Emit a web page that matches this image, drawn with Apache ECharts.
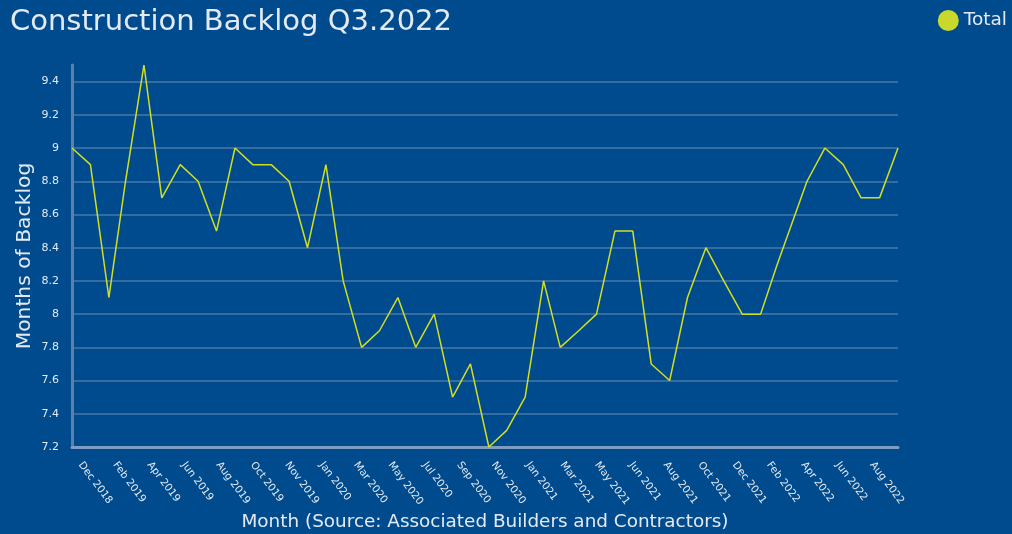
<!DOCTYPE html>
<html>
<head>
<meta charset="utf-8">
<script src="https://cdn.jsdelivr.net/npm/echarts@6/dist/echarts.min.js"></script>
<style>
html,body{margin:0;padding:0;background:#004b8d;}
#chart{width:1012px;height:534px;}
</style>
</head>
<body>
<div id="chart"></div>
<script>
// Dates of each observation (the last ones were plotted mid-month in the source)
const dates = [
  '2018-12-01','2019-01-01','2019-02-01','2019-03-01','2019-04-01','2019-05-01','2019-06-01','2019-07-01','2019-08-01','2019-09-01','2019-10-01','2019-11-01',
  '2019-12-01','2020-01-01','2020-02-01','2020-03-01','2020-04-01','2020-05-01','2020-06-01','2020-07-01','2020-08-01','2020-09-01','2020-10-01','2020-11-01',
  '2020-12-01','2021-01-01','2021-02-01','2021-03-01','2021-04-01','2021-05-01','2021-06-01','2021-07-01','2021-08-01','2021-09-01','2021-10-01','2021-11-01',
  '2021-12-01','2022-01-01','2022-02-01','2022-03-01','2022-04-20','2022-05-20','2022-06-20','2022-07-20','2022-08-20','2022-09-20'
];
const totalBacklog = [
  9.0, 8.9, 8.1, 8.8, 9.5, 8.7, 8.9, 8.8, 8.5, 9.0, 8.9, 8.9,
  8.8, 8.4, 8.9, 8.2, 7.8, 7.9, 8.1, 7.8, 8.0, 7.5, 7.7, 7.2,
  7.3, 7.5, 8.2, 7.8, 7.9, 8.0, 8.5, 8.5, 7.7, 7.6, 8.1, 8.4,
  8.2, 8.0, 8.0, 8.3, 8.8, 9.0, 8.9, 8.7, 8.7, 9.0
];
const tickLabels = [
  'Dec 2018','Feb 2019','Apr 2019','Jun 2019','Aug 2019','Oct 2019','Nov 2019','Jan 2020',
  'Mar 2020','May 2020','Jul 2020','Sep 2020','Nov 2020','Jan 2021','Mar 2021','May 2021',
  'Jun 2021','Aug 2021','Oct 2021','Dec 2021','Feb 2022','Apr 2022','Jun 2022','Aug 2022',''
];

const FONT = 'DejaVu Sans';
const TEXT = '#e3eaf3';
const chart = echarts.init(document.getElementById('chart'), null, {renderer: 'canvas'});
chart.setOption({
  backgroundColor: '#004b8d',
  animation: false,
  textStyle: {fontFamily: FONT},
  title: {
    text: 'Construction Backlog Q3.2022',
    left: 5, top: 3,
    textStyle: {color: TEXT, fontSize: 29, fontWeight: 'normal', fontFamily: FONT}
  },
  legend: {
    right: 0, top: 5,
    icon: 'circle', itemWidth: 21, itemHeight: 21, itemGap: 5,
    textStyle: {color: TEXT, fontSize: 18.5, fontFamily: FONT},
    data: ['Total']
  },
  grid: {left: 72, right: 114, top: 65, bottom: 87, containLabel: false, outerBoundsMode: 'none'},
  xAxis: [
    {
      type: 'time',
      min: dates[0], max: dates[dates.length - 1],
      position: 'bottom',
      axisLine: {show: true, lineStyle: {color: '#7f9dc2', width: 3}},
      axisTick: {show: false},
      axisLabel: {show: false},
      splitLine: {show: false}
    },
    {
      type: 'category',
      data: tickLabels,
      boundaryGap: false,
      position: 'bottom',
      axisLine: {show: false},
      axisTick: {show: false},
      axisLabel: {color: TEXT, fontSize: 10.3, rotate: -53, interval: 0, margin: 5, padding: [0, 0, 0, 14], fontFamily: FONT},
      splitLine: {show: false},
      name: 'Month (Source: Associated Builders and Contractors)',
      nameLocation: 'middle',
      nameGap: 66,
      nameMoveOverlap: false,
      nameTextStyle: {color: TEXT, fontSize: 18.4, fontFamily: FONT}
    }
  ],
  yAxis: {
    type: 'value',
    min: 7.2, max: 9.5, interval: 0.2,
    axisLine: {show: true, lineStyle: {color: '#5a81ae', width: 3}},
    axisTick: {show: false},
    axisLabel: {color: TEXT, fontSize: 11, margin: 13, showMaxLabel: false, fontFamily: FONT},
    splitLine: {show: true, showMaxLine: false, lineStyle: {color: '#4a77a8', width: 1.5}},
    name: 'Months of Backlog',
    nameLocation: 'middle',
    nameGap: 37,
    nameMoveOverlap: false,
    nameTextStyle: {color: TEXT, fontSize: 20.3, fontFamily: FONT}
  },
  series: [{
    name: 'Total',
    type: 'line',
    xAxisIndex: 0,
    data: dates.map((d, i) => [d, totalBacklog[i]]),
    showSymbol: false,
    symbol: 'circle',
    itemStyle: {color: '#c8d92c'},
    lineStyle: {color: '#d2df1f', width: 1.5},
    clip: false
  }]
});
</script>
</body>
</html>
